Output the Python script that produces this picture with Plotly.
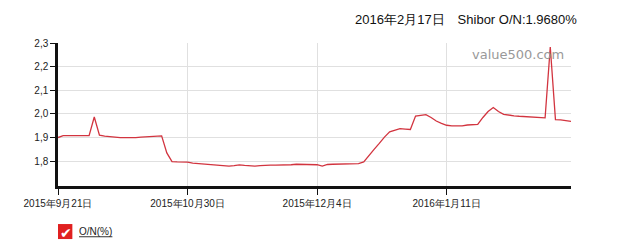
import plotly.graph_objects as go

# Shibor O/N (%) by trading day, 2015-09-21 .. 2016-02-17
rates = [
    1.900, 1.908, 1.908, 1.908, 1.907, 1.908, 1.908, 1.987, 1.910, 1.906,
    1.903, 1.900, 1.900, 1.900, 1.899, 1.900, 1.902, 1.904, 1.905, 1.905,
    1.907, 1.835, 1.798, 1.797, 1.797, 1.796, 1.792, 1.790, 1.789, 1.787,
    1.785, 1.783, 1.781, 1.779, 1.781, 1.784, 1.782, 1.780, 1.779, 1.781,
    1.783, 1.783, 1.783, 1.783, 1.784, 1.785, 1.787, 1.787, 1.786, 1.787,
    1.785, 1.779, 1.786, 1.787, 1.788, 1.788, 1.788, 1.789, 1.790, 1.797,
    1.825, 1.850, 1.875, 1.902, 1.924, 1.932, 1.938, 1.936, 1.934, 1.991,
    1.995, 1.997, 1.985, 1.970, 1.960, 1.952, 1.949, 1.949, 1.949, 1.953,
    1.956, 1.956, 1.985, 2.010, 2.027, 2.010, 1.998, 1.994, 1.992, 1.990,
    1.988, 1.986, 1.984, 1.983, 1.983, 2.283, 1.976, 1.975, 1.972, 1.968,
]
day_index = list(range(len(rates)))

x_tick_pos = [0, 25, 50, 75]
x_tick_labels = ["2015年9月21日", "2015年10月30日", "2015年12月4日", "2016年1月11日"]
y_tick_vals = [1.8, 1.9, 2.0, 2.1, 2.2, 2.3]
y_tick_labels = ["1,8", "1,9", "2,0", "2,1", "2,2", "2,3"]

title_text = "2016年2月17日\u2003Shibor O/N:1.9680%"
legend_text = "O/N(%)"
watermark = "value500.com"

fig = go.Figure()
fig.add_trace(go.Scatter(
    x=day_index, y=rates, mode="lines",
    line=dict(color="#d2343f", width=1.3),
    showlegend=False, hoverinfo="skip",
))

font_family = "Liberation Sans, Arial, sans-serif"

fig.update_layout(
    width=629, height=241, autosize=False,
    margin=dict(l=58, r=58, t=43, b=55, pad=0),
    paper_bgcolor="white", plot_bgcolor="white",
    font=dict(family=font_family, size=10, color="#222"),
    xaxis=dict(
        range=[0, 99], tickmode="array", tickvals=x_tick_pos, ticktext=x_tick_labels,
        showgrid=True, gridcolor="#e0e0e0", gridwidth=1,
        showline=True, linecolor="#111", linewidth=2.5,
        ticks="outside", ticklen=6, tickwidth=1, tickcolor="#111",
        tickfont=dict(size=10, color="#222"), zeroline=False,
    ),
    yaxis=dict(
        range=[1.695, 2.3], tickmode="array", tickvals=y_tick_vals, ticktext=y_tick_labels,
        showgrid=True, gridcolor="#e0e0e0", gridwidth=1,
        showline=True, linecolor="#111", linewidth=2.5,
        ticks="outside", ticklen=5, tickwidth=1, tickcolor="#111",
        tickfont=dict(size=10, color="#222"), zeroline=False,
    ),
    annotations=[
        dict(text=title_text, xref="paper", yref="paper", x=1.016, y=1.0,
             xanchor="right", yanchor="bottom", yshift=14, showarrow=False,
             font=dict(size=13, color="#111", family=font_family)),
        dict(text=watermark, xref="paper", yref="paper", x=0.99, y=0.985,
             xanchor="right", yanchor="top", showarrow=False,
             font=dict(size=13, color="#999999", family="DejaVu Sans, sans-serif")),
        dict(text="\u2714", xref="paper", yref="paper", x=0.0, y=0.0,
             xanchor="left", yanchor="top", xshift=0, yshift=-37, showarrow=False,
             font=dict(size=14, color="white")),
        dict(text=legend_text,
             xref="paper", yref="paper", x=0.0, y=0.0, xanchor="left", yanchor="top",
             xshift=19, yshift=-38, showarrow=False,
             font=dict(size=10, color="#222")),
    ],
    shapes=[
        dict(type="rect", xref="paper", yref="paper", x0=0.0, x1=0.028,
             y0=-0.371, y1=-0.266, fillcolor="#e02020", line=dict(width=0), layer="below"),
        dict(type="line", xref="paper", yref="paper", x0=0.041, x1=0.106,
             y0=-0.355, y1=-0.355, line=dict(color="#333", width=1)),
    ],
)

fig.write_html("out.html")
